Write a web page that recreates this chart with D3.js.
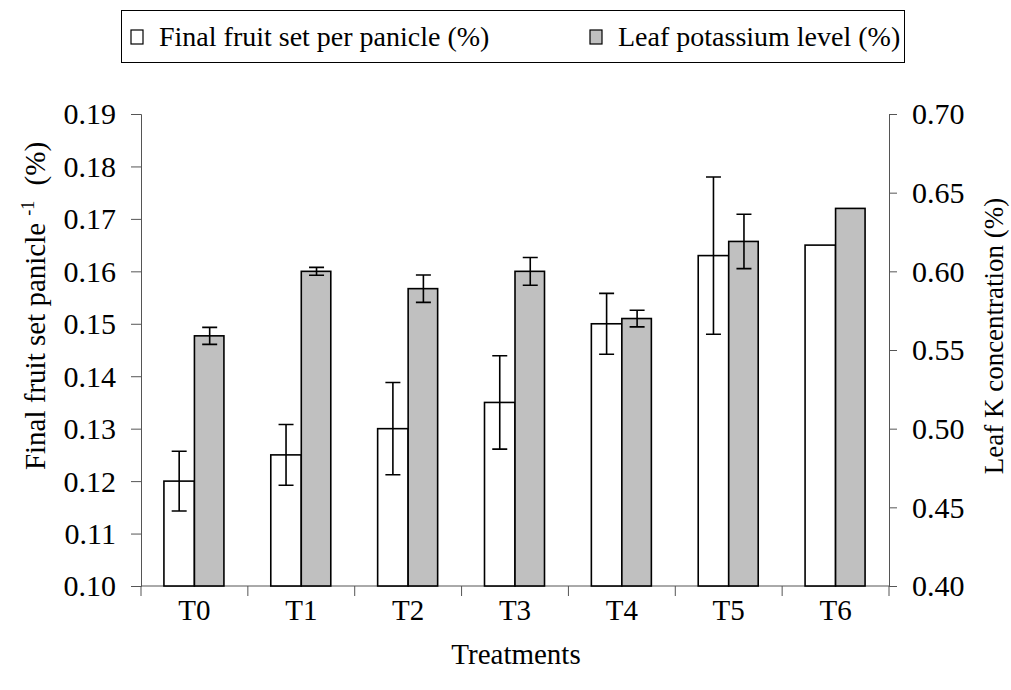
<!DOCTYPE html>
<meta charset="utf-8">
<style>
body { margin: 0; background: #fff; }
.bar { stroke: #000; stroke-width: 1.6px; }
.err { stroke: #000; stroke-width: 1.6px; fill: none; }
.axis path, .axis line { stroke: #555; stroke-width: 1px; }
</style>
<svg width="1011" height="690"></svg>
<script src="https://d3js.org/d3.v7.min.js"></script>
<script>
// data
var treatments = ["T0", "T1", "T2", "T3", "T4", "T5", "T6"];
var fruitSet = [0.120, 0.125, 0.130, 0.135, 0.150, 0.163, 0.165];
var fruitSetErr = [0.0057, 0.0058, 0.0088, 0.0089, 0.0058, 0.015, 0];
var leafK = [0.559, 0.600, 0.589, 0.600, 0.570, 0.619, 0.640];
var leafKErr = [0.0054, 0.0025, 0.0087, 0.0088, 0.0053, 0.0173, 0];
var leftTicks = [0.10, 0.11, 0.12, 0.13, 0.14, 0.15, 0.16, 0.17, 0.18, 0.19];
var rightTicks = [0.40, 0.45, 0.50, 0.55, 0.60, 0.65, 0.70];

var serif = "'Liberation Serif', 'Times New Roman', Times, serif";
var svg = d3.select("svg").attr("font-family", serif),
    plotL = 141, plotR = 889, plotT = 114, plotB = 586;

var x = d3.scaleBand().domain(treatments).range([plotL, plotR]);
var yL = d3.scaleLinear().domain([0.10, 0.19]).range([plotB, plotT]);
var yR = d3.scaleLinear().domain([0.40, 0.70]).range([plotB, plotT]);
var barW = 30.5;

function txt(sel, size) {
  return sel.style("font-family", serif).style("font-size", size + "px").attr("fill", "#000");
}

// axes
var axL = svg.append("g").attr("class", "axis")
    .attr("transform", "translate(" + plotL + ",0)")
    .call(d3.axisLeft(yL).tickValues(leftTicks).tickFormat(d3.format(".2f")).tickSizeOuter(0).tickSize(10).tickPadding(15));
var axR = svg.append("g").attr("class", "axis")
    .attr("transform", "translate(" + plotR + ",0)")
    .call(d3.axisRight(yR).tickValues(rightTicks).tickFormat(d3.format(".2f")).tickSizeOuter(0).tickSize(8).tickPadding(15));
[axL, axR].forEach(function(a) {
  a.attr("font-family", null).attr("font-size", null);
  txt(a.selectAll("text"), 30).attr("dy", "0.33em");
});

// x axis: baseline with ticks between categories
var axX = svg.append("g").attr("class", "axis");
axX.append("line").attr("x1", plotL).attr("x2", plotR).attr("y1", plotB).attr("y2", plotB);
axX.selectAll(".sep").data(d3.range(treatments.length + 1)).enter().append("line")
  .attr("x1", function(i) { return plotL + i * x.bandwidth(); })
  .attr("x2", function(i) { return plotL + i * x.bandwidth(); })
  .attr("y1", plotB).attr("y2", plotB + 10);
txt(svg.selectAll(".xlab").data(treatments).enter().append("text"), 29)
  .attr("x", function(d) { return x(d) + x.bandwidth() / 2; })
  .attr("y", 620)
  .attr("text-anchor", "middle")
  .text(function(d) { return d; });

// bars
var g = svg.append("g");
g.selectAll(".fs").data(treatments).enter().append("rect")
  .attr("class", "bar")
  .attr("fill", "#fff")
  .attr("x", function(d) { return x(d) + x.bandwidth() / 2 - barW; })
  .attr("width", barW)
  .attr("y", function(d, i) { return yL(fruitSet[i]); })
  .attr("height", function(d, i) { return plotB - yL(fruitSet[i]); });
g.selectAll(".lk").data(treatments).enter().append("rect")
  .attr("class", "bar")
  .attr("fill", "#c0c0c0")
  .attr("x", function(d) { return x(d) + x.bandwidth() / 2; })
  .attr("width", barW - 1)
  .attr("y", function(d, i) { return yR(leafK[i]); })
  .attr("height", function(d, i) { return plotB - yR(leafK[i]); });

// error bars
function errBars(vals, errs, scale, offset) {
  treatments.forEach(function(d, i) {
    if (!errs[i]) return;
    var cx = x(d) + x.bandwidth() / 2 + offset,
        y1 = scale(vals[i] + errs[i]), y2 = scale(vals[i] - errs[i]);
    g.append("path").attr("class", "err")
      .attr("d", "M" + cx + "," + y1 + "V" + y2 +
                 "M" + (cx - 7.5) + "," + y1 + "H" + (cx + 7.5) +
                 "M" + (cx - 7.5) + "," + y2 + "H" + (cx + 7.5));
  });
}
errBars(fruitSet, fruitSetErr, yL, -barW / 2);
errBars(leafK, leafKErr, yR, barW / 2);

// axis titles
var lt = txt(svg.append("text"), 29)
  .attr("transform", "translate(45,306) rotate(-90)")
  .attr("text-anchor", "middle");
lt.append("tspan").text("Final fruit set panicle ");
lt.append("tspan").attr("baseline-shift", "60%").style("font-size", "18px").text("-1");
lt.append("tspan").attr("dx", 8).text(" (%)");

txt(svg.append("text"), 27)
  .attr("transform", "translate(1003,336) rotate(-90)")
  .attr("text-anchor", "middle")
  .text("Leaf K concentration (%)");

txt(svg.append("text"), 29)
  .attr("x", 516).attr("y", 664)
  .attr("text-anchor", "middle")
  .text("Treatments");

// legend
var legend = svg.append("g");
legend.append("rect").attr("x", 121.5).attr("y", 10.5).attr("width", 783).attr("height", 52)
  .attr("fill", "#fff").attr("stroke", "#000").attr("stroke-width", 1);
var items = [
  { label: "Final fruit set per panicle (%)", fill: "#fff", x: 131 },
  { label: "Leaf potassium level (%)", fill: "#c0c0c0", x: 590 }
];
items.forEach(function(it) {
  legend.append("rect").attr("x", it.x).attr("y", 30).attr("width", 12).attr("height", 14)
    .attr("fill", it.fill).attr("stroke", "#000").attr("stroke-width", 1.2);
  txt(legend.append("text"), 28).attr("x", it.x + 28).attr("y", 46).text(it.label);
});
</script>
